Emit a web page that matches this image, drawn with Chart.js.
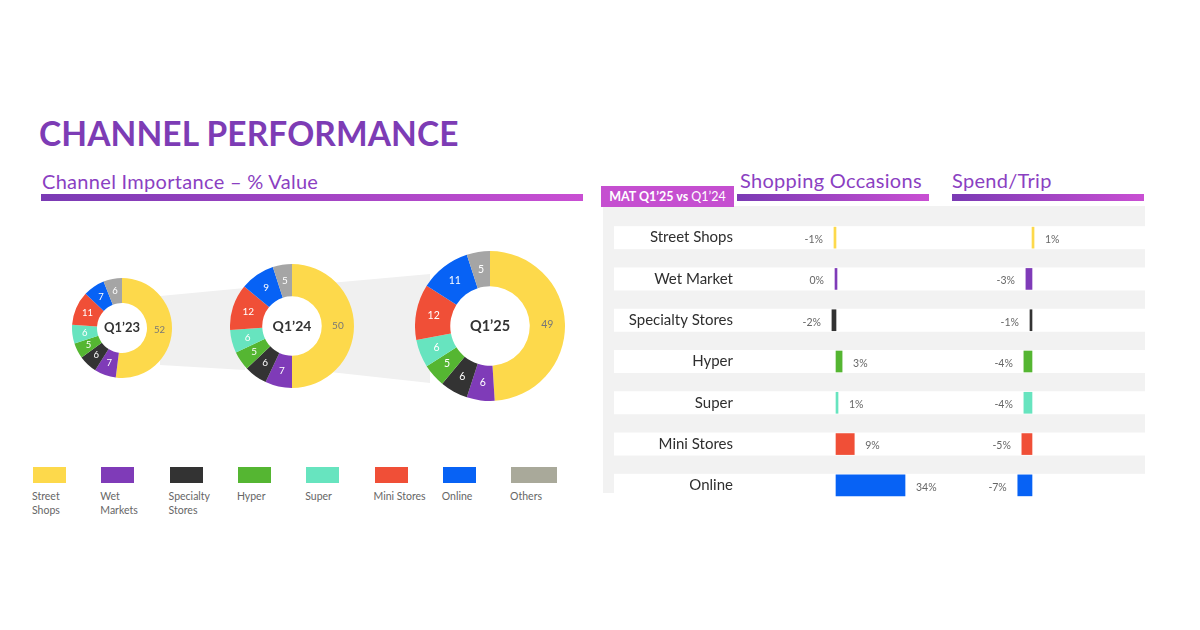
<!DOCTYPE html>
<html>
<head>
<meta charset="utf-8">
<script src="https://cdn.jsdelivr.net/npm/chart.js@4.4.1/dist/chart.umd.min.js"></script>
<style>
body{margin:0;width:1200px;height:630px;background:#fff;font-family:Lato,"Noto Sans",sans-serif;position:relative;overflow:hidden}
.abs{position:absolute}
#title{left:39px;top:113px;font-size:33.5px;font-weight:700;color:#7d3cb5;letter-spacing:0.1px}
.head{font-size:20px;color:#8b3fc2;white-space:nowrap;letter-spacing:0.3px}
.gbar{height:7px;background:linear-gradient(90deg,#7a3ab4,#c94fd3)}
.band{left:0;top:0;width:1200px;height:630px;background:#f0f0f0}
#panel{left:603px;top:206px;width:542px;height:287px;background:#f2f2f2}
#mat{left:601px;top:186px;width:133px;height:21px;background:#c54fd0;color:#fff;font-size:12.5px;font-weight:700;line-height:21px;text-align:center;white-space:nowrap}
#mat span{font-weight:400}
.sw{width:33px;height:16px;top:467px}
.lg{top:489px;font-size:10.5px;line-height:14px;color:#666}
canvas{position:absolute}
</style>
</head>
<body>
<div id="title" class="abs">CHANNEL PERFORMANCE</div>
<div class="abs head" style="left:42px;top:169px">Channel Importance – % Value</div>
<div class="abs gbar" style="left:41px;top:194px;width:542px"></div>

<div class="abs band" style="clip-path:polygon(160px 296px,245px 288px,245px 370px,160px 365px)"></div>
<div class="abs band" style="clip-path:polygon(330px 283px,430px 274px,430px 383px,330px 372px)"></div>

<canvas id="d23" width="100" height="100" style="left:72px;top:278px"></canvas>
<canvas id="d24" width="124" height="124" style="left:230px;top:264px"></canvas>
<canvas id="d25" width="150" height="150" style="left:415px;top:251px"></canvas>

<div id="legend"></div>

<div id="panel" class="abs"></div>
<div id="mat" class="abs">MAT Q1’25 vs <span>Q1’24</span></div>
<div class="abs head" style="left:740px;top:168px">Shopping Occasions</div>
<div class="abs gbar" style="left:737px;top:194px;width:192px"></div>
<div class="abs head" style="left:952px;top:168px">Spend/Trip</div>
<div class="abs gbar" style="left:952px;top:194px;width:192px"></div>

<canvas id="bars" width="550" height="289" style="left:600px;top:217px"></canvas>

<script>
// donut data (% value share)
const channels = ['Street Shops', 'Wet Markets', 'Specialty Stores', 'Hyper', 'Super', 'Mini Stores', 'Online', 'Others'];
const legendLines = [['Street', 'Shops'], ['Wet', 'Markets'], ['Specialty', 'Stores'], ['Hyper'], ['Super'], ['Mini Stores'], ['Online'], ['Others']];
const q123 = [52, 7, 6, 5, 6, 11, 7, 6];
const q124 = [50, 7, 6, 5, 6, 12, 9, 5];
const q125 = [49, 6, 6, 5, 6, 12, 11, 5];
const periods = ['Q1’23', 'Q1’24', 'Q1’25'];

// MAT Q1'25 vs Q1'24
const rowLabels = ['Street Shops', 'Wet Market', 'Specialty Stores', 'Hyper', 'Super', 'Mini Stores', 'Online'];
const occasions = [-1, 0, -2, 3, 1, 9, 34];
const spendTrip = [1, -3, -1, -4, -4, -5, -7];

const colors = ['#fdd94b', '#7f3bb8', '#333333', '#55b632', '#67e4bf', '#f04f37', '#0762f5', '#a5a5a5'];
const legendColors = ['#fdd94b', '#7f3bb8', '#333333', '#55b632', '#67e4bf', '#f04f37', '#0762f5', '#a9a99a'];

// legend
const legend = document.getElementById('legend');
channels.forEach((c, i) => {
    const x = 33 + i * 68.3;
    const sw = document.createElement('div');
    sw.className = 'abs sw';
    sw.style.left = x + 'px';
    sw.style.background = legendColors[i];
    if (i === channels.length - 1) sw.style.width = '46px';
    legend.appendChild(sw);
    const lg = document.createElement('div');
    lg.className = 'abs lg';
    lg.style.left = (x - 1) + 'px';
    lg.innerHTML = legendLines[i].join('<br>');
    legend.appendChild(lg);
});

const donutLabels = {
    id: 'donutLabels',
    afterDatasetsDraw(chart, args, opts) {
        const ctx = chart.ctx;
        const meta = chart.getDatasetMeta(0);
        ctx.save();
        ctx.textAlign = 'center';
        ctx.textBaseline = 'middle';
        ctx.font = opts.size + 'px Lato, sans-serif';
        meta.data.forEach((arc, i) => {
            const p = arc.tooltipPosition();
            ctx.fillStyle = i === 0 ? '#777' : '#fff';
            ctx.fillText(chart.data.datasets[0].data[i], p.x, p.y);
        });
        ctx.font = 'bold ' + opts.center + 'px Lato, sans-serif';
        ctx.fillStyle = '#333';
        ctx.fillText(opts.title, meta.data[0].x, meta.data[0].y);
        ctx.restore();
    }
};

function donut(id, values, title, cutout, size, center) {
    new Chart(document.getElementById(id), {
        type: 'doughnut',
        data: {
            labels: channels,
            datasets: [{ data: values, backgroundColor: colors, borderWidth: 0, hoverOffset: 0 }]
        },
        options: {
            responsive: false,
            animation: false,
            cutout: cutout,
            layout: { padding: 0 },
            plugins: {
                legend: { display: false },
                tooltip: { enabled: false },
                donutLabels: { title, size, center }
            }
        },
        plugins: [donutLabels]
    });
}

donut('d23', q123, periods[0], '50%', 9.5, 13);
donut('d24', q124, periods[1], '48%', 10, 14);
donut('d25', q125, periods[2], '53%', 10.5, 14.5);

// bar panel
const rowPlugin = {
    id: 'rows',
    beforeDatasetsDraw(chart) {
        const ctx = chart.ctx;
        const y = chart.scales.y;
        ctx.save();
        rowLabels.forEach((l, i) => {
            const py = y.getPixelForValue(i);
            ctx.fillStyle = '#fff';
            ctx.fillRect(14, py - 11.5, 531, 23);
            ctx.fillStyle = '#2e2e2e';
            ctx.font = '15px Lato, sans-serif';
            ctx.textAlign = 'right';
            ctx.textBaseline = 'middle';
            ctx.fillText(l, 133, py);
        });
        ctx.restore();
    },
    afterDatasetsDraw(chart) {
        const ctx = chart.ctx;
        ctx.save();
        ctx.font = '10.5px Lato, sans-serif';
        ctx.fillStyle = '#666';
        ctx.textBaseline = 'middle';
        chart.data.datasets.forEach((ds, di) => {
            chart.getDatasetMeta(di).data.forEach((bar, i) => {
                const v = ds.data[i];
                const lo = Math.min(bar.x, bar.base), hi = Math.max(bar.x, bar.base);
                if (v > 0) {
                    ctx.textAlign = 'left';
                    ctx.fillText(v + '%', hi + 11, bar.y + 2);
                } else {
                    ctx.textAlign = 'right';
                    ctx.fillText(v + '%', lo - 11, bar.y + 2);
                }
            });
        });
        ctx.restore();
    }
};

const pxPerPct = 2.03;
new Chart(document.getElementById('bars'), {
    type: 'bar',
    data: {
        labels: rowLabels,
        datasets: [
            { data: occasions, backgroundColor: colors.slice(0, 7), xAxisID: 'xo', grouped: false, barThickness: 21, minBarLength: 2 },
            { data: spendTrip, backgroundColor: colors.slice(0, 7), xAxisID: 'xs', grouped: false, barThickness: 21, minBarLength: 2 }
        ]
    },
    options: {
        indexAxis: 'y',
        responsive: false,
        animation: false,
        layout: { padding: 0 },
        scales: {
            y: { display: false },
            xo: { type: 'linear', display: false, min: -236 / pxPerPct, max: (550 - 236) / pxPerPct },
            xs: { type: 'linear', display: false, min: -432 / pxPerPct, max: (550 - 432) / pxPerPct }
        },
        plugins: { legend: { display: false }, tooltip: { enabled: false } }
    },
    plugins: [rowPlugin]
});
</script>
</body>
</html>
